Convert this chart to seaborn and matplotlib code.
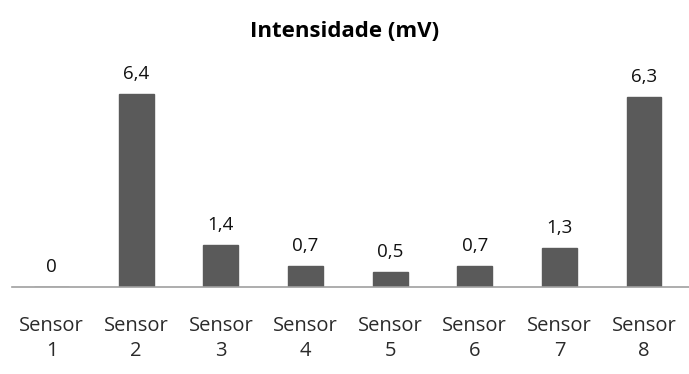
import matplotlib
matplotlib.use("Agg")
import matplotlib.pyplot as plt
import seaborn as sns
import pandas as pd

categories = ["Sensor\n1", "Sensor\n2", "Sensor\n3", "Sensor\n4", "Sensor\n5", "Sensor\n6", "Sensor\n7", "Sensor\n8"]
values = [0, 6.4, 1.4, 0.7, 0.5, 0.7, 1.3, 6.3]
title = "Intensidade (mV)"

sns.set_style("white")
plt.rcParams['font.family'] = ['Open Sans', 'DejaVu Sans']

df = pd.DataFrame({"cat": categories, "val": values})

fig = plt.figure(figsize=(6.89, 3.74), dpi=100)
ax = fig.add_axes([0.017, 0.233, 0.983, 0.564])
sns.barplot(data=df, x="cat", y="val", color="#5a5a5a", width=0.41, ax=ax,
            saturation=1, edgecolor="#5a5a5a")
ax.set_ylim(0, 7)
ax.set_xlim(-0.47, 7.53)
for s in ["top", "left", "right"]:
    ax.spines[s].set_visible(False)
ax.spines["bottom"].set_color("#a0a0a0")
ax.spines["bottom"].set_linewidth(1.2)
ax.set_yticks([])
ax.set_xlabel("")
ax.set_ylabel("")
ax.tick_params(axis="x", length=0, pad=21, labelsize=14.5, colors="#2a2a2a")
for lbl in ax.get_xticklabels():
    lbl.set_linespacing(1.35)
for i, v in enumerate(values):
    lab = f"{v:g}".replace(".", ",")
    ax.annotate(lab, (i, v), xytext=(0, 8), textcoords="offset points",
                ha="center", va="bottom", fontsize=13.5, color="#111111")
fig.text(0.5, 0.915, title, ha="center", va="center", fontsize=16, fontweight="bold", color="#000000")
fig.savefig("out.png", dpi=100)
